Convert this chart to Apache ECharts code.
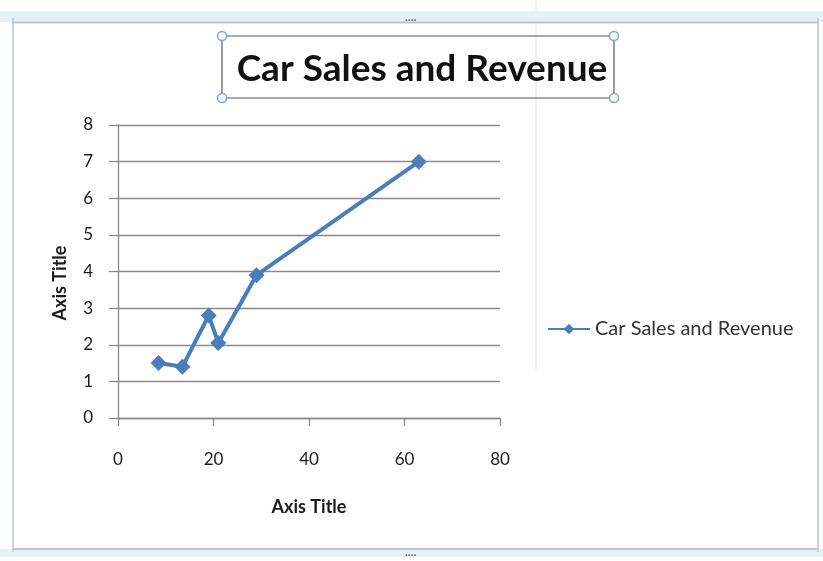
<!DOCTYPE html>
<html>
<head>
<meta charset="utf-8">
<style>
  html, body { margin: 0; padding: 0; background: #ffffff; }
  #chart { width: 823px; height: 561px; }
</style>
<script src="https://cdn.jsdelivr.net/npm/echarts@6/dist/echarts.min.js"></script>
</head>
<body>
<div id="chart"></div>
<script>
// Chart data
const chartTitle = 'Car Sales and Revenue';
const seriesName = 'Car Sales and Revenue';
const xAxisTitle = 'Axis Title';
const yAxisTitle = 'Axis Title';
const salesX = [8.5, 13.5, 19, 21, 29, 63];
const revenueY = [1.5, 1.4, 2.8, 2.05, 3.9, 7];
const xTicks = [0, 20, 40, 60, 80];
const yTicks = [0, 1, 2, 3, 4, 5, 6, 7, 8];

const points = salesX.map((x, i) => [x, revenueY[i]]);

const FONT = 'Lato, "Open Sans", sans-serif';
const BLUE = '#4a7ebb';
const GRID = '#8a8a8a';

const chart = echarts.init(document.getElementById('chart'), null, { renderer: 'canvas' });

// Selection handle drawn at a corner of the title box
function handle(x, y) {
  return {
    type: 'circle',
    shape: { cx: x, cy: y, r: 4.5 },
    style: { fill: '#f4f8fb', stroke: '#8aa6c1', lineWidth: 1.5 },
    z: 20
  };
}

chart.setOption({
  animation: false,
  backgroundColor: '#ffffff',
  title: {
    text: chartTitle,
    left: 417,
    top: 46,
    textAlign: 'center',
    textStyle: { fontFamily: FONT, fontWeight: 'bold', fontSize: 37, color: '#111' }
  },
  legend: {
    data: [seriesName],
    left: 542,
    top: 314,
    itemWidth: 42,
    itemHeight: 13,
    itemGap: 2,
    textStyle: { fontFamily: FONT, fontSize: 20, color: '#333' }
  },
  grid: { left: 118, right: 323, top: 125, bottom: 143, containLabel: false },
  xAxis: {
    type: 'value',
    min: xTicks[0],
    max: xTicks[xTicks.length - 1],
    interval: 20,
    name: xAxisTitle,
    nameLocation: 'middle',
    nameGap: 80,
    nameTextStyle: { fontFamily: FONT, fontWeight: 'bold', fontSize: 18, color: '#1a1a1a' },
    axisLine: { show: true, lineStyle: { color: GRID, width: 1.3 } },
    axisTick: { show: true, inside: false, length: 8, lineStyle: { color: GRID, width: 1.3 } },
    axisLabel: { fontFamily: FONT, fontSize: 17, color: '#1a1a1a', margin: 33 },
    splitLine: { show: false }
  },
  yAxis: {
    type: 'value',
    min: yTicks[0],
    max: yTicks[yTicks.length - 1],
    interval: 1,
    axisLine: { show: true, lineStyle: { color: GRID, width: 1.3 } },
    axisTick: { show: true, inside: false, length: 9, lineStyle: { color: GRID, width: 1.3 } },
    axisLabel: { fontFamily: FONT, fontSize: 17, color: '#1a1a1a', margin: 25 },
    splitLine: { show: true, lineStyle: { color: GRID, width: 1.4 } }
  },
  series: [{
    name: seriesName,
    type: 'line',
    data: points,
    symbol: 'diamond',
    symbolSize: 16,
    lineStyle: { color: BLUE, width: 4 },
    itemStyle: { color: BLUE },
    z: 5
  }],
  graphic: [
    // faint sheet line behind the chart
    { type: 'line', shape: { x1: 536, y1: 0, x2: 536, y2: 370 }, style: { stroke: '#e2e2e2', lineWidth: 1 }, z: -1 },
    // chart area frame
    { type: 'rect', shape: { x: 0, y: 11, width: 823, height: 11 }, style: { fill: '#e6f1f2' }, z: 0 },
    { type: 'line', shape: { x1: 12, y1: 22.5, x2: 818, y2: 22.5 }, style: { stroke: '#b9c6cc', lineWidth: 2 }, z: 1 },
    { type: 'line', shape: { x1: 13, y1: 18, x2: 13, y2: 552 }, style: { stroke: '#b9c6cc', lineWidth: 1.5 }, z: 1 },
    { type: 'line', shape: { x1: 818, y1: 18, x2: 818, y2: 552 }, style: { stroke: '#b9c6cc', lineWidth: 1.5 }, z: 1 },
    { type: 'rect', shape: { x: 0, y: 549, width: 823, height: 8 }, style: { fill: '#e6f1f2' }, z: 0 },
    { type: 'line', shape: { x1: 12, y1: 549, x2: 818, y2: 549 }, style: { stroke: '#b9c6cc', lineWidth: 2 }, z: 1 },
    // resize grips
    { type: 'text', style: { text: '....', x: 405, y: 11, fill: '#666', fontSize: 12, fontFamily: FONT, fontWeight: 'bold' }, z: 2 },
    { type: 'text', style: { text: '....', x: 405, y: 546, fill: '#666', fontSize: 12, fontFamily: FONT, fontWeight: 'bold' }, z: 2 },
    // vertical value-axis title
    {
      type: 'text',
      x: 60, y: 283, rotation: Math.PI / 2,
      style: {
        text: yAxisTitle, fill: '#1a1a1a', fontFamily: FONT, fontWeight: 'bold', fontSize: 18,
        align: 'center', verticalAlign: 'middle'
      },
      z: 3
    },
    // selected title box
    { type: 'rect', shape: { x: 222, y: 36, width: 392, height: 62 }, style: { fill: 'none', stroke: '#555', lineWidth: 1.2 }, z: 10 },
    handle(222, 36), handle(614, 36), handle(222, 98), handle(614, 98)
  ]
});
</script>
</body>
</html>
